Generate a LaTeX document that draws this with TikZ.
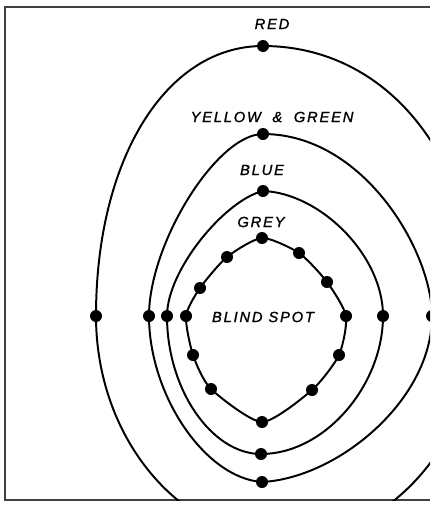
\documentclass[tikz,border=0pt]{standalone}
\usepackage{fontspec}
\newfontfamily\fieldfont[LetterSpace=12, FakeBold=1.2]{Liberation Sans}
\usetikzlibrary{calc}

\begin{document}
\begin{tikzpicture}[
    x=0.025cm, y=-0.025cm,
    field/.style={draw, line width=1.4pt, line join=round},
    pin/.style={circle, fill, inner sep=0pt, minimum size=3mm},
    tag/.style={font=\fieldfont\itshape\fontsize{10.5}{12}\selectfont},
    frame/.style={draw=black!75, line width=0.8pt},
]
\useasboundingbox (0,0) rectangle (430,506);

% ---- frame (open to the right) ----
\draw[frame] (430,7) -- (5,7) -- (5,500) -- (430,500);

\begin{scope}
\clip (5,7) rectangle (430,500);

% ---- colour fields: red, yellow & green, blue ----
\draw[field] (263,46) .. controls (388,46) and (478,159) .. (478,316)
  .. controls (478,439) and (391,540) .. (285,540)
  .. controls (181,540) and (96,439) .. (96,316)
  .. controls (96,159) and (166,46) .. cycle;
\draw[field] (263,134) .. controls (364,134) and (432,252) .. (432,316)
  .. controls (432,400) and (338,478) .. (262,482)
  .. controls (205,478) and (149,395) .. (149,316)
  .. controls (149,243) and (217,134) .. cycle;
\draw[field] (263,191) .. controls (320,193) and (383,255) .. (383,316)
  .. controls (383,385) and (325,454) .. (261,454)
  .. controls (212,454) and (167,390) .. (167,316)
  .. controls (167,270) and (225,200) .. cycle;

% ---- grey field = blind spot ----
\draw[field] plot[smooth cycle, tension=0.4] coordinates {
  (262,238) (299,253) (327,282) (346,316) (339,355) (312,390)
  (262,422) (211,389) (193,355) (186,316) (200,288) (227,257)};

% ---- measured points ----
\foreach \px/\py [count=\i] in {263/46, 96/316,
    263/134, 149/316, 432/316, 262/482,
    263/191, 167/316, 383/316, 261/454,
    262/238, 299/253, 327/282, 346/316, 339/355, 312/390,
    262/422, 211/389, 193/355, 186/316, 200/288, 227/257}
  \node[pin] (p\i) at (\px,\py) {};
\end{scope}

% ---- labels ----
\node[tag] (red)   at (272,24)  {RED};
\node[tag] (yg)    at (272,117) {YELLOW\hspace{4pt} \&\hspace{4pt} GREEN};
\node[tag] (blue)  at (262,170) {BLUE};
\node[tag] (grey)  at (261,222) {GREY};
\node[tag] (blind) at (263,317) {BLIND SPOT};

\end{tikzpicture}
\end{document}
